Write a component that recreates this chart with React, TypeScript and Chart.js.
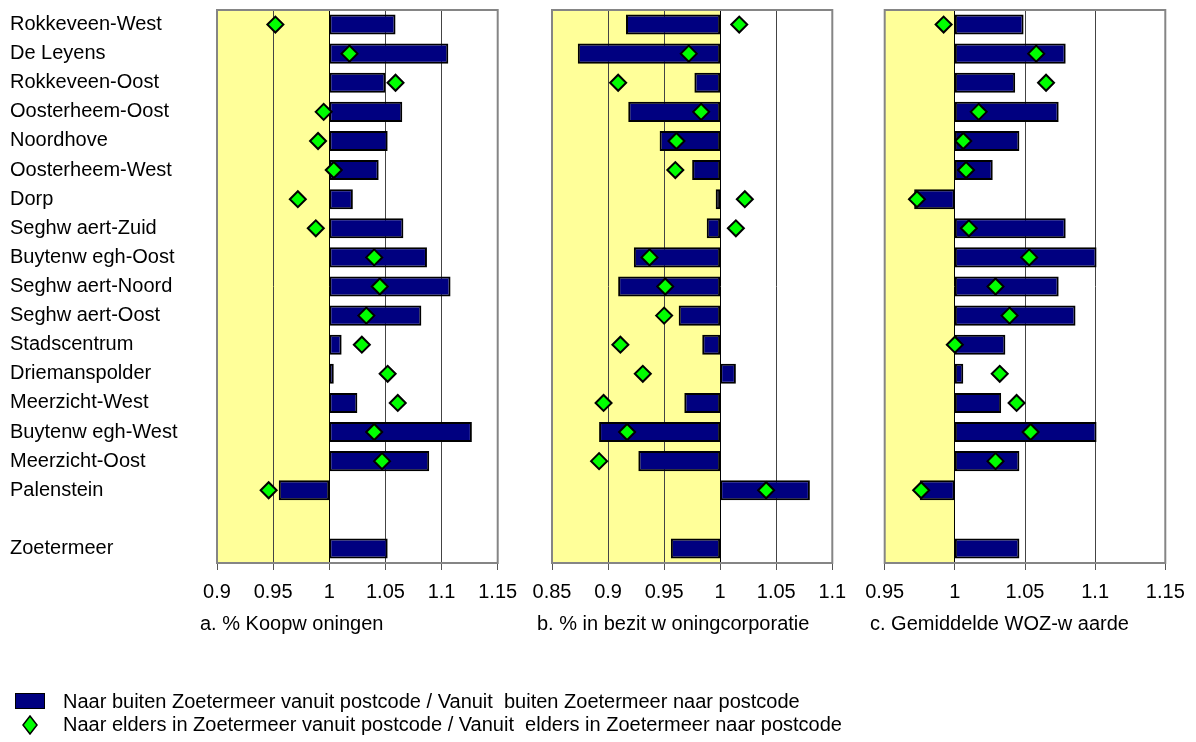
import React, { useEffect, useRef } from 'react';
import { Chart, registerables } from 'chart.js';

Chart.register(...registerables);

const FONT = "'Liberation Sans', Arial, sans-serif";
const W = 1196;
const H = 742;

const categories = [
  'Rokkeveen-West', 'De Leyens', 'Rokkeveen-Oost', 'Oosterheem-Oost', 'Noordhove',
  'Oosterheem-West', 'Dorp', 'Seghw aert-Zuid', 'Buytenw egh-Oost', 'Seghw aert-Noord',
  'Seghw aert-Oost', 'Stadscentrum', 'Driemanspolder', 'Meerzicht-West', 'Buytenw egh-West',
  'Meerzicht-Oost', 'Palenstein', '', 'Zoetermeer',
];

// a. % Koopwoningen
const koopBuiten = [1.059, 1.106, 1.050, 1.065, 1.052, 1.044, 1.021, 1.066, 1.087, 1.108, 1.082, 1.011, 1.004, 1.025, 1.127, 1.089, 0.955, null, 1.052];
const koopElders = [0.952, 1.018, 1.059, 0.995, 0.990, 1.004, 0.972, 0.988, 1.040, 1.045, 1.033, 1.029, 1.052, 1.061, 1.040, 1.047, 0.946, null, null];

// b. % in bezit woningcorporatie
const corpBuiten = [0.916, 0.873, 0.977, 0.918, 0.946, 0.975, 0.996, 0.988, 0.923, 0.909, 0.963, 0.984, 1.014, 0.968, 0.892, 0.927, 1.080, null, 0.956];
const corpElders = [1.017, 0.972, 0.909, 0.983, 0.961, 0.960, 1.022, 1.014, 0.937, 0.951, 0.950, 0.911, 0.931, 0.896, 0.917, 0.892, 1.041, null, null];

// c. Gemiddelde WOZ-waarde
const wozBuiten = [1.049, 1.079, 1.043, 1.074, 1.046, 1.027, 0.971, 1.079, 1.101, 1.074, 1.086, 1.036, 1.006, 1.033, 1.101, 1.046, 0.975, null, 1.046];
const wozElders = [0.992, 1.058, 1.065, 1.017, 1.006, 1.008, 0.973, 1.010, 1.053, 1.029, 1.039, 1.000, 1.032, 1.044, 1.054, 1.029, 0.976, null, null];

const ticksA = [0.9, 0.95, 1, 1.05, 1.1, 1.15];
const ticksB = [0.85, 0.9, 0.95, 1, 1.05, 1.1];
const ticksC = [0.95, 1, 1.05, 1.1, 1.15];

const titleA = 'a. % Koopw oningen';
const titleB = 'b. % in bezit w oningcorporatie';
const titleC = 'c. Gemiddelde WOZ-w aarde';

const legendBars = 'Naar buiten Zoetermeer vanuit postcode / Vanuit  buiten Zoetermeer naar postcode';
const legendDiamonds = 'Naar elders in Zoetermeer vanuit postcode / Vanuit  elders in Zoetermeer naar postcode';

const PLOT_TOP = 8.3;
const PLOT_BOTTOM = 563;
const XAXIS_H = 40;

const panels = [
  { key: 'a', builten: koopBuiten, elders: koopElders, ticks: ticksA, left: 217, right: 497.7, showY: true },
  { key: 'b', builten: corpBuiten, elders: corpElders, ticks: ticksB, left: 552, right: 832.3, showY: false },
  { key: 'c', builten: wozBuiten, elders: wozElders, ticks: ticksC, left: 884.7, right: 1165.3, showY: false },
];

const decorPlugin = {
  id: 'decor',
  beforeDraw(chart: any) {
    const { ctx, chartArea } = chart;
    const x = chart.scales.x;
    const x1 = x.getPixelForValue(1);
    ctx.save();
    ctx.fillStyle = '#ffff99';
    ctx.fillRect(chartArea.left, chartArea.top, x1 - chartArea.left, chartArea.bottom - chartArea.top);
    ctx.restore();
  },
  afterDraw(chart: any) {
    const { ctx, chartArea } = chart;
    ctx.save();
    ctx.strokeStyle = '#858585';
    ctx.lineWidth = 2;
    ctx.strokeRect(chartArea.left, chartArea.top, chartArea.right - chartArea.left, chartArea.bottom - chartArea.top);
    ctx.restore();
  },
};

function fmt(v: number) {
  return String(Math.round(v * 100) / 100);
}

function PanelChart({ panel }: { panel: any }) {
  const ref = useRef<HTMLCanvasElement | null>(null);
  useEffect(() => {
    if (!ref.current) return;
    const min = panel.ticks[0];
    const max = panel.ticks[panel.ticks.length - 1];
    const yPadLeft = 10;
    const chart = new Chart(ref.current, {
      type: 'bar',
      data: {
        labels: categories,
        datasets: [
          {
            type: 'bar',
            data: panel.builten.map((v: number | null) => (v == null ? null : [1, v])),
            backgroundColor: '#000080',
            borderColor: '#000000',
            borderWidth: 2,
            borderSkipped: false,
            barPercentage: 0.69,
            categoryPercentage: 1,
            order: 2,
          } as any,
          {
            type: 'line',
            data: panel.elders,
            showLine: false,
            pointStyle: 'rectRot',
            pointRadius: 8,
            pointBackgroundColor: '#00ff00',
            pointBorderColor: '#000000',
            pointBorderWidth: 2,
            order: 1,
          } as any,
        ],
      },
      options: {
        indexAxis: 'y',
        responsive: false,
        animation: false,
        devicePixelRatio: 1,
        events: [],
        layout: {
          padding: {
            left: panel.showY ? yPadLeft : panel.left,
            right: W - panel.right,
            top: PLOT_TOP,
            bottom: H - PLOT_BOTTOM - XAXIS_H,
          },
        },
        plugins: { legend: { display: false }, tooltip: { enabled: false } },
        scales: {
          x: {
            type: 'linear',
            min,
            max,
            afterBuildTicks: (s: any) => {
              s.ticks = panel.ticks.map((v: number) => ({ value: v }));
            },
            afterFit: (s: any) => {
              s.height = XAXIS_H;
              s.paddingLeft = 0;
              s.paddingRight = 0;
            },
            grid: {
              color: (ctx: any) => (ctx.tick && Math.abs(ctx.tick.value - 1) < 1e-9 ? '#000000' : '#444444'),
              lineWidth: 1,
              tickLength: 7,
              tickColor: '#555555',
            },
            border: { display: false },
            ticks: {
              font: { family: FONT, size: 20 },
              color: '#000000',
              padding: 10,
              maxRotation: 0,
              autoSkip: false,
              callback: (v: any) => fmt(Number(v)),
            },
          },
          y: {
            type: 'category',
            display: panel.showY,
            afterFit: (s: any) => {
              s.width = panel.showY ? panel.left - yPadLeft : 0;
              s.paddingTop = 0;
              s.paddingBottom = 0;
            },
            grid: { display: false },
            border: { display: false },
            ticks: {
              crossAlign: 'far',
              font: { family: FONT, size: 20 },
              color: '#000000',
              padding: 0,
              autoSkip: false,
            },
          },
        },
      } as any,
      plugins: [decorPlugin],
    });
    return () => chart.destroy();
  }, [panel]);
  return (
    <canvas
      ref={ref}
      width={W}
      height={H}
      style={{ position: 'absolute', left: 0, top: 0, width: W, height: H }}
    />
  );
}

const textStyle: React.CSSProperties = {
  position: 'absolute',
  fontFamily: FONT,
  fontSize: 20,
  color: '#000',
  whiteSpace: 'pre',
  lineHeight: '22px',
};

export default function App() {
  return (
    <div style={{ position: 'absolute', left: 0, top: 0, width: W, height: H, background: '#fff', overflow: 'hidden' }}>
      {panels.map((p) => (
        <PanelChart key={p.key} panel={p} />
      ))}
      <div style={{ ...textStyle, left: 200, top: 612 }}>{titleA}</div>
      <div style={{ ...textStyle, left: 537, top: 612 }}>{titleB}</div>
      <div style={{ ...textStyle, left: 870, top: 612 }}>{titleC}</div>
      <div
        style={{
          position: 'absolute',
          left: 15,
          top: 693,
          width: 30,
          height: 16,
          boxSizing: 'border-box',
          background: '#000080',
          border: '1.5px solid #000',
        }}
      />
      <div style={{ ...textStyle, left: 63, top: 690 }}>{legendBars}</div>
      <svg style={{ position: 'absolute', left: 22, top: 715 }} width={16} height={20}>
        <polygon points="8,1 15,10 8,19 1,10" fill="#00ff00" stroke="#000" strokeWidth={1.5} />
      </svg>
      <div style={{ ...textStyle, left: 63, top: 713 }}>{legendDiamonds}</div>
    </div>
  );
}
